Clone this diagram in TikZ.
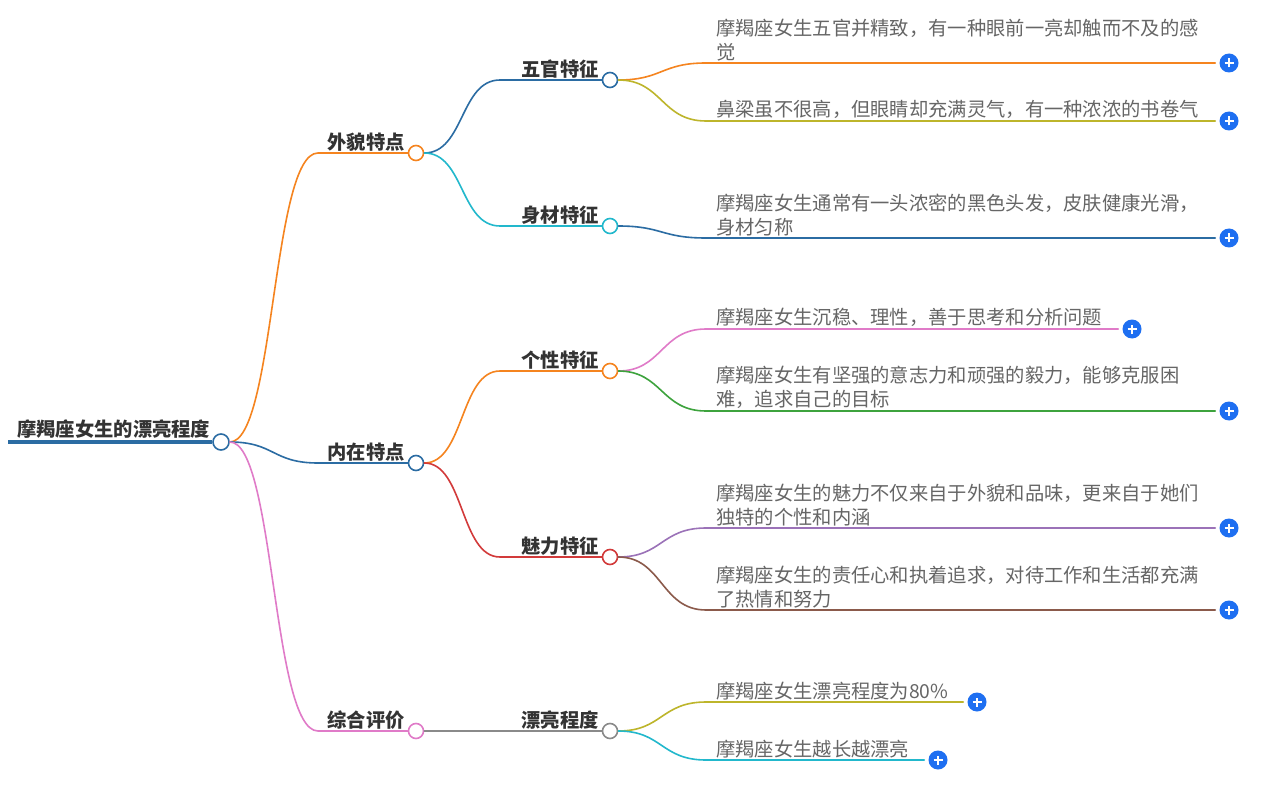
\documentclass[tikz,border=0pt]{standalone}
\usepackage{fontspec}
\setmainfont{Noto Sans CJK SC}
\definecolor{cblue}{HTML}{2B6CA3}
\definecolor{corange}{HTML}{F5841F}
\definecolor{ccyan}{HTML}{22B8CC}
\definecolor{cpink}{HTML}{E07BC8}
\definecolor{cred}{HTML}{D23A3A}
\definecolor{colive}{HTML}{BDB52B}
\definecolor{cgreen}{HTML}{3DA33D}
\definecolor{cpurple}{HTML}{9B72B8}
\definecolor{cbrown}{HTML}{8B5A4B}
\definecolor{cgray}{HTML}{8A8A8A}
\definecolor{plusblue}{HTML}{1E6FF1}
\newcommand\leafitem[6]{%
  \coordinate (#1-in) at (706,#3);
  \node[addbtn] (#1-btn) at (#5,#3) {};
  \node[leaf] (#1) at (716,#3-2) {#6};
  \draw[link,#4] (#2.east) .. controls +(44,0) and +(-45,0) .. (#1-in) -- ([xshift=-4pt]#1-btn.west);
}
\begin{document}
\begin{tikzpicture}[x=1pt,y=-1pt,
  font=\fontsize{19.3}{24}\selectfont,
  link/.style={line width=1.6pt, line cap=round},
  hub/.style={circle, draw=#1, fill=white, line width=1.6pt, minimum size=15pt, inner sep=0pt},
  lvl/.style={anchor=south east, inner sep=0pt, text=black!80, font=\fontsize{19.3}{24}\selectfont\bfseries},
  leaf/.style={anchor=south west, inner sep=0pt, align=left, text=black!60},
  addbtn/.style={circle, fill=plusblue, minimum size=19pt, inner sep=0pt,
    path picture={\draw[white, line width=1.8pt]
      ([xshift=-4.5pt]path picture bounding box.center) -- ([xshift=4.5pt]path picture bounding box.center)
      ([yshift=-4.5pt]path picture bounding box.center) -- ([yshift=4.5pt]path picture bounding box.center);}}]
\useasboundingbox[fill=white] (0,0) rectangle (1279,786);

% root
\coordinate (root-start) at (8,442);
\node[hub=cblue, minimum size=16pt] (root) at (221,442) {};
\draw[cblue, line width=3.2pt] (root-start) -- (root.west);
\node[lvl, anchor=south west] (root-t) at (17,439) {摩羯座女生的漂亮程度};

% level 1
\coordinate (wm-in) at (318,153);
\coordinate (nz-in) at (318,463);
\coordinate (zh-in) at (318,731);
\node[hub=corange] (wm) at (416,153) {};
\node[hub=cblue] (nz) at (416,463) {};
\node[hub=cpink] (zh) at (416,731) {};
\draw[link,corange] (root.east) .. controls +(45,0) and +(-46,0) .. (wm-in) -- (wm.west);
\draw[link,cblue] (root.east) .. controls +(45,0) and +(-46,0) .. (nz-in) -- (nz.west);
\draw[link,cpink] (root.east) .. controls +(45,0) and +(-46,0) .. (zh-in) -- (zh.west);
\node[lvl] (wm-t) at (405,152) {外貌特点};
\node[lvl] (nz-t) at (405,462) {内在特点};
\node[lvl] (zh-t) at (405,730) {综合评价};

% level 2
\coordinate (wg-in) at (500,80);
\coordinate (sc-in) at (500,226);
\coordinate (gx-in) at (500,371);
\coordinate (ml-in) at (500,557);
\node[hub=cblue] (wg) at (610,80) {};
\node[hub=ccyan] (sc) at (610,226) {};
\node[hub=corange] (gx) at (610,371) {};
\node[hub=cred] (ml) at (610,557) {};
\node[hub=cgray] (pl) at (610,731) {};
\draw[link,cblue] (wm.east) .. controls +(40,0) and +(-40,0) .. (wg-in) -- (wg.west);
\draw[link,ccyan] (wm.east) .. controls +(40,0) and +(-40,0) .. (sc-in) -- (sc.west);
\draw[link,corange] (nz.east) .. controls +(40,0) and +(-40,0) .. (gx-in) -- (gx.west);
\draw[link,cred] (nz.east) .. controls +(40,0) and +(-40,0) .. (ml-in) -- (ml.west);
\draw[link,cgray] (zh.east) -- (pl.west);
\node[lvl] (wg-t) at (599,79) {五官特征};
\node[lvl] (sc-t) at (599,225) {身材特征};
\node[lvl] (gx-t) at (599,370) {个性特征};
\node[lvl] (ml-t) at (599,556) {魅力特征};
\node[lvl] (pl-t) at (599,730) {漂亮程度};

% leaves
\leafitem{a1}{wg}{63}{corange}{1229}{摩羯座女生五官并精致，有一种眼前一亮却触而不及的感\\觉}
\leafitem{a2}{wg}{121}{colive}{1229}{鼻梁虽不很高，但眼睛却充满灵气，有一种浓浓的书卷气}
\leafitem{b1}{sc}{238}{cblue}{1229}{摩羯座女生通常有一头浓密的黑色头发，皮肤健康光滑，\\身材匀称}
\leafitem{c1}{gx}{329}{cpink}{1132}{摩羯座女生沉稳、理性，善于思考和分析问题}
\leafitem{c2}{gx}{411}{cgreen}{1229}{摩羯座女生有坚强的意志力和顽强的毅力，能够克服困\\难，追求自己的目标}
\leafitem{d1}{ml}{528}{cpurple}{1229}{摩羯座女生的魅力不仅来自于外貌和品味，更来自于她们\\独特的个性和内涵}
\leafitem{d2}{ml}{610}{cbrown}{1229}{摩羯座女生的责任心和执着追求，对待工作和生活都充满\\了热情和努力}
\leafitem{e1}{pl}{702}{colive}{977}{摩羯座女生漂亮程度为80\%}
\leafitem{e2}{pl}{760}{ccyan}{938}{摩羯座女生越长越漂亮}
\end{tikzpicture}
\end{document}
